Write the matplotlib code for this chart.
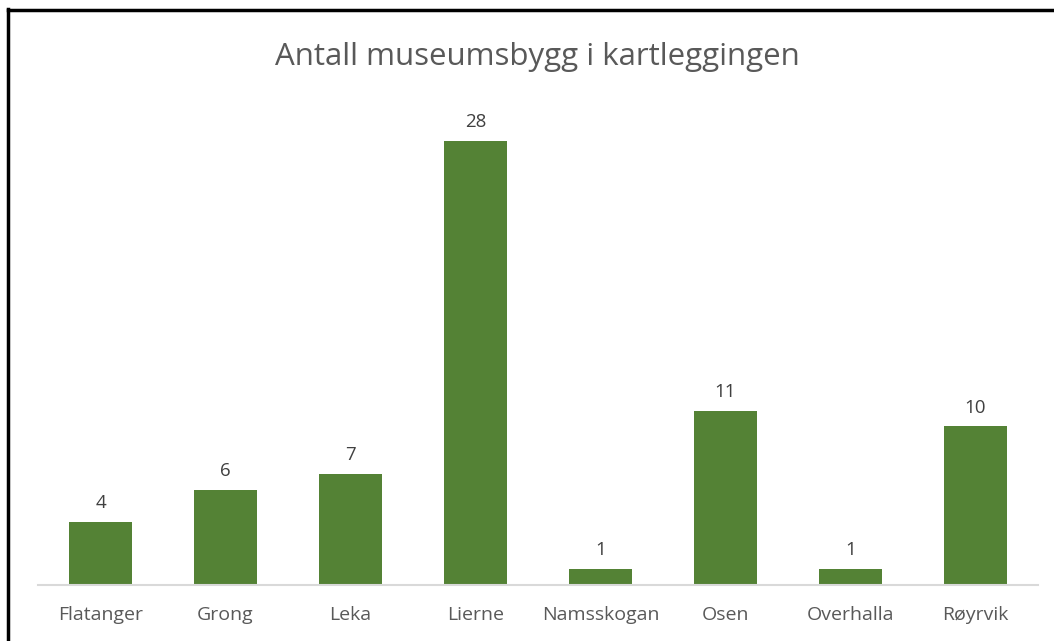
import matplotlib.pyplot as plt
from matplotlib.lines import Line2D

kommuner = ['Flatanger', 'Grong', 'Leka', 'Lierne', 'Namsskogan', 'Osen', 'Overhalla', 'Røyrvik']
antall = [4, 6, 7, 28, 1, 11, 1, 10]

plt.rcParams['font.family'] = ['Open Sans', 'DejaVu Sans']

fig = plt.figure(figsize=(10.54, 6.41), dpi=100)
W, H = 1054, 641

# axes: x 38..1038 px, baseline at y=585 px
ax = fig.add_axes([38 / W, 1 - 585 / H, 1000 / W, (585 - 100) / H])
x = range(len(kommuner))
ax.bar(x, antall, width=0.5, color='#548235')
ax.set_xlim(-0.5, len(kommuner) - 0.5)
ax.set_ylim(0, 28 * (585 - 100) / (585 - 141))

for xi, v in zip(x, antall):
    ax.annotate(str(v), (xi, v), xytext=(0, 7), textcoords='offset points',
                ha='center', va='bottom', fontsize=13.5, color='#404040')

ax.set_xticks(list(x))
ax.set_xticklabels(kommuner, fontsize=14, color='#595959')
ax.tick_params(axis='x', length=0, pad=15)
ax.set_yticks([])
for s in ['top', 'left', 'right']:
    ax.spines[s].set_visible(False)
ax.spines['bottom'].set_color('#d9d9d9')
ax.spines['bottom'].set_linewidth(1.5)

fig.text(537 / W, 1 - 57 / H, 'Antall museumsbygg i kartleggingen',
         ha='center', va='center', fontsize=22.5, color='#595959')

# screenshot frame: black line on left and top
fig.add_artist(Line2D([8 / W, 8 / W], [0, 1 - 9 / H], color='black', lw=2.5,
                      transform=fig.transFigure))
fig.add_artist(Line2D([8 / W, 1], [1 - 10 / H, 1 - 10 / H], color='black', lw=2.5,
                      transform=fig.transFigure))

fig.savefig('out.png', dpi=100)
